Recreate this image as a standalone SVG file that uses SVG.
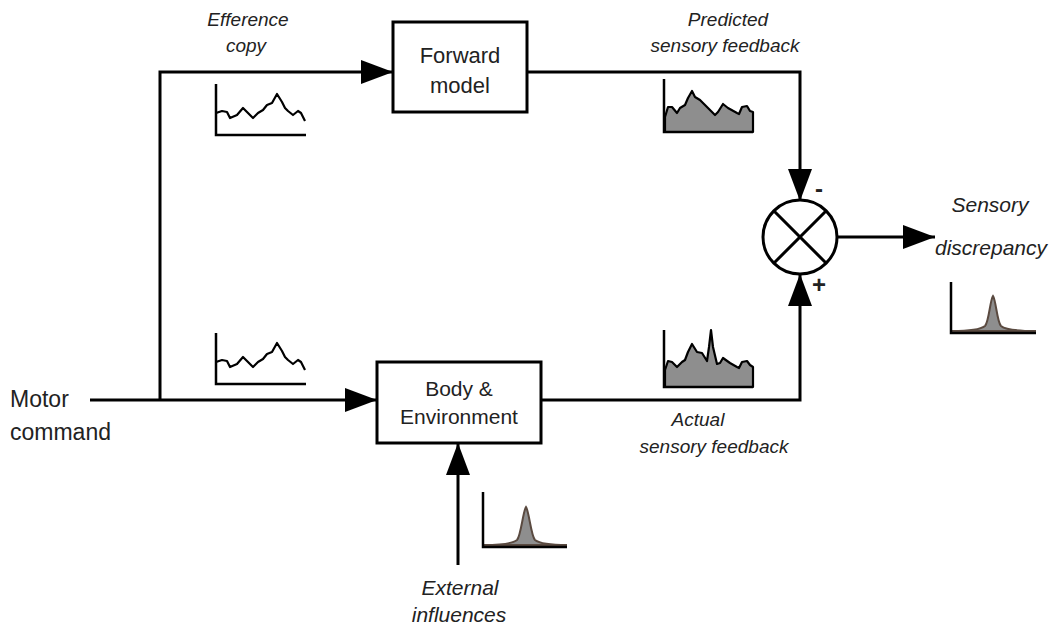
<svg xmlns="http://www.w3.org/2000/svg" width="1053" height="629" viewBox="0 0 1053 629">
<defs>
<style>
.box{fill:#fff;stroke:#000;stroke-width:3}
.conn{fill:none;stroke:#000;stroke-width:3}
.lbl{font-family:"Liberation Sans",Arial,sans-serif;font-size:21px;fill:#222;text-anchor:middle}
.it{font-style:italic}
.sm{font-size:19px}
.axis{fill:none;stroke:#000;stroke-width:2.5}
.trace{fill:none;stroke:#000;stroke-width:2.2;stroke-linejoin:round}
.area{fill:#8e8e8e;stroke:#000;stroke-width:2.2;stroke-linejoin:round}
.peak{fill:#8e8e8e;stroke:#5a4a40;stroke-width:2}
</style>
<marker id="ah" viewBox="0 0 32 24" refX="32" refY="12" markerWidth="32" markerHeight="24" markerUnits="userSpaceOnUse" orient="auto">
<path d="M0,0 L32,12 L0,24 Z" fill="#000"/>
</marker>
</defs>
<rect width="1053" height="629" fill="#fff"/>

<g id="connectors">
<path class="conn" d="M90,400 H377" marker-end="url(#ah)"/>
<path class="conn" d="M160,400 V72 H393" marker-end="url(#ah)"/>
<path class="conn" d="M527,72 H800 V201" marker-end="url(#ah)"/>
<path class="conn" d="M541,400 H800 V274" marker-end="url(#ah)"/>
<path class="conn" d="M838,237 H935" marker-end="url(#ah)"/>
<path class="conn" d="M458,565 V443" marker-end="url(#ah)"/>
</g>

<g id="forward-model">
<rect class="box" x="393" y="22" width="134" height="90"/>
<text class="lbl" x="460" y="63" style="font-size:22px">Forward</text>
<text class="lbl" x="460" y="93" style="font-size:22px">model</text>
</g>

<g id="body-environment">
<rect class="box" x="377" y="362" width="164" height="81"/>
<text class="lbl" x="459" y="396">Body &amp;</text>
<text class="lbl" x="459" y="424">Environment</text>
</g>

<g id="comparator">
<circle cx="800" cy="237" r="37" fill="#fff" stroke="#000" stroke-width="3"/>
<path d="M774,211 L826,263 M826,211 L774,263" stroke="#000" stroke-width="3"/>
<text class="lbl" x="819" y="197" style="font-size:24px;font-weight:bold">-</text>
<text class="lbl" x="819" y="293" style="font-size:24px;font-weight:bold">+</text>
</g>

<g id="motor-command">
<text class="lbl" x="10" y="407" style="text-anchor:start;font-size:23px">Motor</text>
<text class="lbl" x="10" y="440" style="text-anchor:start;font-size:23px">command</text>
</g>

<g id="labels">
<text class="lbl it sm" x="248" y="26">Efference</text>
<text class="lbl it sm" x="246" y="52">copy</text>
<text class="lbl it sm" x="728" y="26">Predicted</text>
<text class="lbl it sm" x="725" y="52">sensory feedback</text>
<text class="lbl it sm" x="698" y="426">Actual</text>
<text class="lbl it sm" x="714" y="453">sensory feedback</text>
<text class="lbl it" x="990" y="212">Sensory</text>
<text class="lbl it" x="991" y="255">discrepancy</text>
<text class="lbl it" x="460" y="595">External</text>
<text class="lbl it" x="459" y="622">influences</text>
</g>

<g id="chart-efference">
<path class="trace" d="M216,113 L222,111 L227,112 L230,118 L237,115 L243,108 L248,113 L253,118 L258,113 L263,110 L267,105 L272,103 L277,94 L282,102 L285,108 L288,111 L293,115 L298,111 L301,113 L305,121"/>
<path class="axis" d="M216,84 V135 H306"/>
</g>
<g id="chart-motor">
<path class="trace" transform="translate(0,249)" d="M216,113 L222,111 L227,112 L230,118 L237,115 L243,108 L248,113 L253,118 L258,113 L263,110 L267,105 L272,103 L277,94 L282,102 L285,108 L288,111 L293,115 L298,111 L301,113 L305,121"/>
<path class="axis" d="M216,333 V384 H306"/>
</g>
<g id="chart-predicted">
<path class="area" d="M665,132 V117 L668,107 L672,107 L677,113 L680,108 L685,105 L688,98 L692,91 L695,97 L700,100 L705,105 L712,112 L715,115 L718,112 L723,104 L728,108 L737,113 L739,114 L742,107 L747,106 L750,111 L753,112 V132 Z"/>
<path class="axis" d="M664,79 V132 H753"/>
</g>
<g id="chart-actual">
<path class="area" d="M665,387 V370 L668,361 L672,362 L677,367 L682,362 L685,360 L688,352 L692,344 L697,352 L702,353 L707,361 L709,347 L711,330 L713,347 L717,364 L720,363 L723,358 L730,363 L737,367 L739,368 L742,362 L747,361 L750,365 L753,367 V387 Z"/>
<path class="axis" d="M664,330 V387 H753"/>
</g>
<g id="chart-discrepancy">
<path class="peak" d="M952,331 C970,331 980,330 985,326 C989,322 990,300 993,296 C996,300 997,322 1001,326 C1006,330 1016,331 1036,331 Z"/>
<path class="axis" d="M951,282 V333 H1036"/>
</g>
<g id="chart-external">
<path class="peak" d="M484,545 C502,545 512,544 517,540 C521,536 523,511 526,507 C529,511 531,536 535,540 C540,544 550,545 567,545 Z"/>
<path class="axis" d="M483,492 V547 H567"/>
</g>
</svg>
